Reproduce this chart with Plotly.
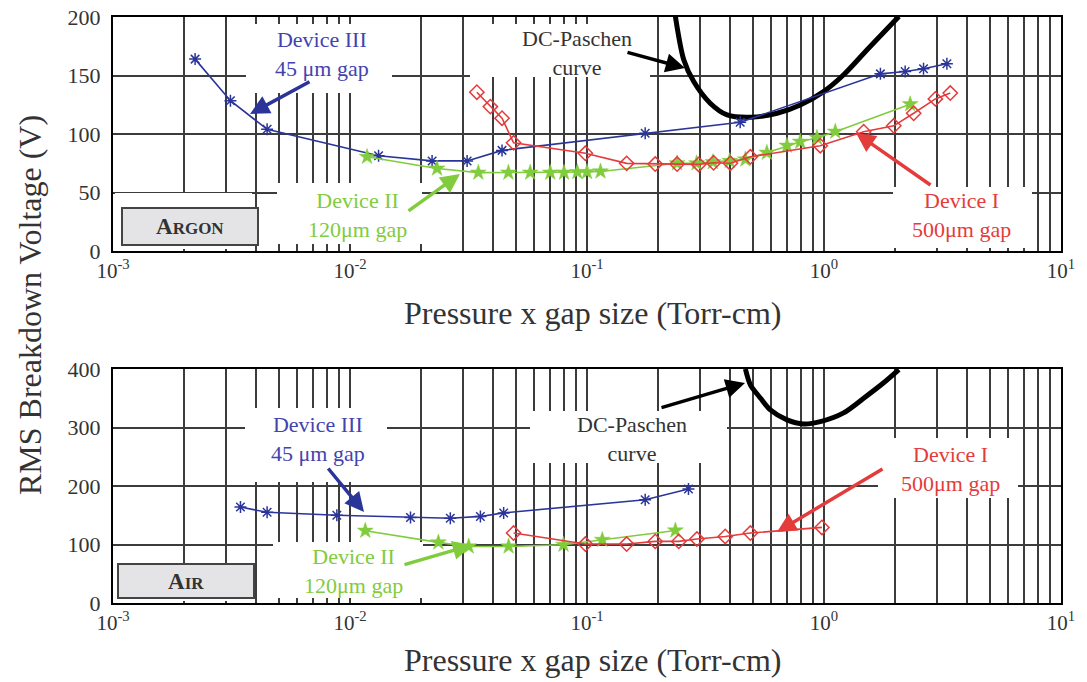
import plotly.graph_objects as go

# ---------------- data ----------------
# Argon panel
ar_dev3_x = [0.00222, 0.00313, 0.00447, 0.0132, 0.0222, 0.0312, 0.0438, 0.176, 0.443, 1.73, 2.2, 2.63, 3.30]
ar_dev3_v = [164, 128.5, 104, 81.4, 77, 77, 86, 100.6, 110, 151.4, 153.4, 155.7, 160]

ar_dev2_x = [0.0118, 0.0233, 0.0348, 0.0466, 0.0576, 0.070, 0.080, 0.091, 0.100, 0.114,
             0.24, 0.29, 0.34, 0.40, 0.466, 0.574, 0.698, 0.794, 0.934, 1.116, 2.31]
ar_dev2_v = [80.5, 70.5, 67, 67, 67, 67, 67, 67.5, 67.5, 68,
             75, 75, 76, 77, 78.3, 84, 90, 93.4, 96.8, 102, 125.5]

ar_dev1_x = [0.0343, 0.0391, 0.0438, 0.049, 0.0984, 0.147, 0.194, 0.240, 0.296, 0.342,
             0.403, 0.489, 0.964, 1.47, 1.97, 2.39, 2.95, 3.41]
ar_dev1_v = [135.7, 123.4, 113.5, 92.5, 83.5, 74.9, 74.3, 74.3, 74, 75.4,
             75, 80.5, 90, 102, 107, 117.7, 130, 135]

ar_paschen_x = [0.236, 0.256, 0.282, 0.331, 0.390, 0.489, 0.634, 0.794, 0.996, 1.21, 1.52, 2.07]
ar_paschen_v = [200.5, 163.4, 144.8, 126.3, 116.3, 114.3, 117.7, 124.8, 136.2, 150.6, 172, 200.5]

# Air panel
air_dev3_x = [0.00345, 0.00447, 0.0088, 0.018, 0.0265, 0.0355, 0.0445, 0.176, 0.268]
air_dev3_v = [164, 155, 150, 146, 145, 148, 154, 176.5, 195]

air_dev2_x = [0.0116, 0.0236, 0.0317, 0.0467, 0.0796, 0.116, 0.236]
air_dev2_v = [123.6, 103.6, 96.7, 96.7, 99.6, 108, 124]

air_dev1_x = [0.049, 0.0984, 0.147, 0.194, 0.244, 0.291, 0.383, 0.489, 0.98]
air_dev1_v = [119.6, 100.8, 100.8, 105.3, 105.3, 109.4, 113.8, 119.6, 129.2]

air_paschen_x = [0.466, 0.489, 0.54, 0.594, 0.698, 0.82, 0.964, 1.21, 1.47, 1.78, 2.07]
air_paschen_v = [400, 373, 350, 330, 313, 306, 310, 325, 350, 376, 399]

x_tickvals = [1e-3, 1e-2, 1e-1, 1, 10]
x_ticktext = ["10<sup>-3</sup>", "10<sup>-2</sup>", "10<sup>-1</sup>", "10<sup>0</sup>", "10<sup>1</sup>"]
minor_mult = [2, 3, 4, 5, 6, 7, 8, 9]
minor_decades = [1e-3, 1e-2, 1e-1, 1]
ar_yticks = [0, 50, 100, 150, 200]
air_yticks = [0, 100, 200, 300, 400]

# ---------------- style ----------------
FONT = "Liberation Serif"
BLUE_L, BLUE_T = "#2b3599", "#4343b0"
GREEN = "#80cc3c"
RED = "#e43b3b"
GRID = "#3c3c3c"

W, H = 1087, 682
L, R, T, B = 113, 26, 17, 79
PW = W - L - R
PH = H - T - B
TOP_Y0, TOP_Y1 = 17, 251
BOT_Y0, BOT_Y1 = 369, 603


def dx(px):
    return (px - L) / PW


def dy(py, panel):
    if panel == 1:
        return (TOP_Y1 - py) / (TOP_Y1 - TOP_Y0)
    return (BOT_Y1 - py) / (BOT_Y1 - BOT_Y0)


fig = go.Figure()


def add_series(xs, vs, ax, color, symbol, size, lw=1.6, mlw=1.5):
    fig.add_trace(go.Scatter(
        x=xs, y=vs, xaxis="x" if ax == 1 else "x2", yaxis="y" if ax == 1 else "y2",
        mode="lines+markers", line=dict(color=color, width=lw),
        marker=dict(symbol=symbol, size=size, color=color, line=dict(color=color, width=mlw)),
        showlegend=False, hoverinfo="skip"))


def add_paschen(xs, vs, ax):
    fig.add_trace(go.Scatter(
        x=xs, y=vs, xaxis="x" if ax == 1 else "x2", yaxis="y" if ax == 1 else "y2",
        mode="lines", line=dict(color="black", width=5, shape="spline", smoothing=0.8),
        showlegend=False, hoverinfo="skip"))


add_paschen(ar_paschen_x, ar_paschen_v, 1)
add_series(ar_dev3_x, ar_dev3_v, 1, BLUE_L, "asterisk-open", 10)
add_series(ar_dev2_x, ar_dev2_v, 1, GREEN, "star", 12, mlw=0.5)
add_series(ar_dev1_x, ar_dev1_v, 1, RED, "diamond-open", 11)

add_paschen(air_paschen_x, air_paschen_v, 2)
add_series(air_dev3_x, air_dev3_v, 2, BLUE_L, "asterisk-open", 10)
add_series(air_dev2_x, air_dev2_v, 2, GREEN, "star", 12, mlw=0.5)
add_series(air_dev1_x, air_dev1_v, 2, RED, "diamond-open", 11)

minor_vals = [m * d for d in minor_decades for m in minor_mult]

xax = dict(type="log", range=[-3, 1], tickmode="array", tickvals=x_tickvals, ticktext=x_ticktext,
           showgrid=True, gridcolor=GRID, gridwidth=2,
           minor=dict(tickmode="array", tickvals=minor_vals, showgrid=True, gridcolor=GRID, gridwidth=2, ticks=""),
           showline=True, linecolor="black", linewidth=2, mirror=True, ticks="", zeroline=False,
           tickfont=dict(family=FONT, size=21, color="#333"), domain=[0, 1])

top_dom = [(H - B - TOP_Y1) / PH, (H - B - TOP_Y0) / PH]
bot_dom = [(H - B - BOT_Y1) / PH, (H - B - BOT_Y0) / PH]

yax_common = dict(showgrid=True, gridcolor=GRID, gridwidth=2, showline=True, linecolor="black",
                  linewidth=2, mirror=True, ticks="", zeroline=False, ticklabelstandoff=6,
                  tickfont=dict(family=FONT, size=22, color="#333"), tickmode="array")

fig.update_layout(
    width=W, height=H, margin=dict(l=L, r=R, t=T, b=B, autoexpand=False),
    paper_bgcolor="white", plot_bgcolor="white",
    font=dict(family=FONT, color="#333"),
    xaxis=dict(xax, anchor="y"),
    xaxis2=dict(xax, anchor="y2"),
    yaxis=dict(yax_common, range=[0, 200], tickvals=ar_yticks, domain=top_dom, anchor="x"),
    yaxis2=dict(yax_common, range=[0, 400], tickvals=air_yticks, domain=bot_dom, anchor="x2"),
)

shapes = []


def box(x0, x1, y0, y1, panel, fill, lw=0, lc="white"):
    shapes.append(dict(type="rect", xref="x domain" if panel == 1 else "x2 domain",
                       yref="y domain" if panel == 1 else "y2 domain",
                       x0=dx(x0), x1=dx(x1), y0=dy(y1, panel), y1=dy(y0, panel),
                       fillcolor=fill, line=dict(width=lw, color=lc), layer="above"))


# top panel white areas
box(246, 392, 24, 93, 1, "white")
box(470, 650, 24, 77, 1, "white")
box(277, 422, 183, 244, 1, "white")
box(893, 1032, 187, 248, 1, "white")
box(115, 252, 193, 249, 1, "white")
box(122, 258, 208, 245, 1, "#e4e4e6", 2, "#444")
# bottom panel white areas
box(245, 387, 408, 482, 2, "white")
box(530, 727, 411, 463, 2, "white")
box(273, 423, 542, 598, 2, "white")
box(878, 1018, 438, 498, 2, "white")
box(115, 254, 563, 601, 2, "white")
box(118, 254, 564, 598, 2, "#e4e4e6", 2, "#444")

fig.update_layout(shapes=shapes)

ann = []


def text(px, py, panel, s, color, size=22):
    ann.append(dict(xref="x domain" if panel == 1 else "x2 domain",
                    yref="y domain" if panel == 1 else "y2 domain",
                    x=dx(px), y=dy(py, panel), text=s, showarrow=False,
                    xanchor="center", yanchor="middle",
                    font=dict(family=FONT, size=size, color=color), align="center"))


def arrow(tx, ty, hx, hy, panel, color, width=3.5):
    ann.append(dict(xref="x domain" if panel == 1 else "x2 domain",
                    yref="y domain" if panel == 1 else "y2 domain",
                    x=dx(hx), y=dy(hy, panel), ax=tx - hx, ay=ty - hy, text="",
                    showarrow=True, arrowhead=2, arrowsize=1.1, arrowwidth=width, arrowcolor=color))


# top panel labels
text(322, 54, 1, "Device III<br>45 μm gap", BLUE_T)
arrow(311, 81, 250, 114, 1, BLUE_L)
text(577, 53, 1, "DC-Paschen<br>curve", "#333")
arrow(626, 52, 685, 68, 1, "black")
text(357, 215, 1, "Device II<br>120μm gap", GREEN)
arrow(407, 212, 460, 174, 1, GREEN)
text(961, 215, 1, "Device I<br>500μm gap", RED)
arrow(932, 186, 856, 133, 1, RED)
text(190, 227, 1, "<b>A<span style='font-size:17px'>RGON</span></b>", "#333", size=23)

# bottom panel labels
text(318, 439, 2, "Device III<br>45 μm gap", BLUE_T)
arrow(327, 467, 364, 512, 2, BLUE_L)
text(632, 439, 2, "DC-Paschen<br>curve", "#333")
arrow(660, 408, 745, 383, 2, "black")
text(353, 571, 2, "Device II<br>120μm gap", GREEN)
arrow(403, 565, 472, 545, 2, GREEN)
text(950, 469, 2, "Device I<br>500μm gap", RED)
arrow(884, 468, 777, 532, 2, RED)
text(186, 581, 2, "<b>A<span style='font-size:17px'>IR</span></b>", "#333", size=23)


# axis titles
def ptext(px, py, s, angle=0):
    ann.append(dict(xref="paper", yref="paper", x=(px - L) / PW, y=(H - B - py) / PH,
                    xanchor="center", yanchor="middle", text=s, showarrow=False, textangle=angle,
                    font=dict(family=FONT, size=32, color="#333")))


ptext(592, 313, "Pressure x gap size (Torr-cm)")
ptext(592, 660, "Pressure x gap size (Torr-cm)")
ptext(30, 305, "RMS Breakdown Voltage (V)", -90)

fig.update_layout(annotations=ann)

fig.write_html(
    "out.html",
    config={"displayModeBar": False},
    post_script=("document.body.style.margin='0px';"
                 "var gd=document.getElementById('{plot_id}');"
                 "gd.style.position='absolute';gd.style.left='0px';gd.style.top='0px';"),
)
